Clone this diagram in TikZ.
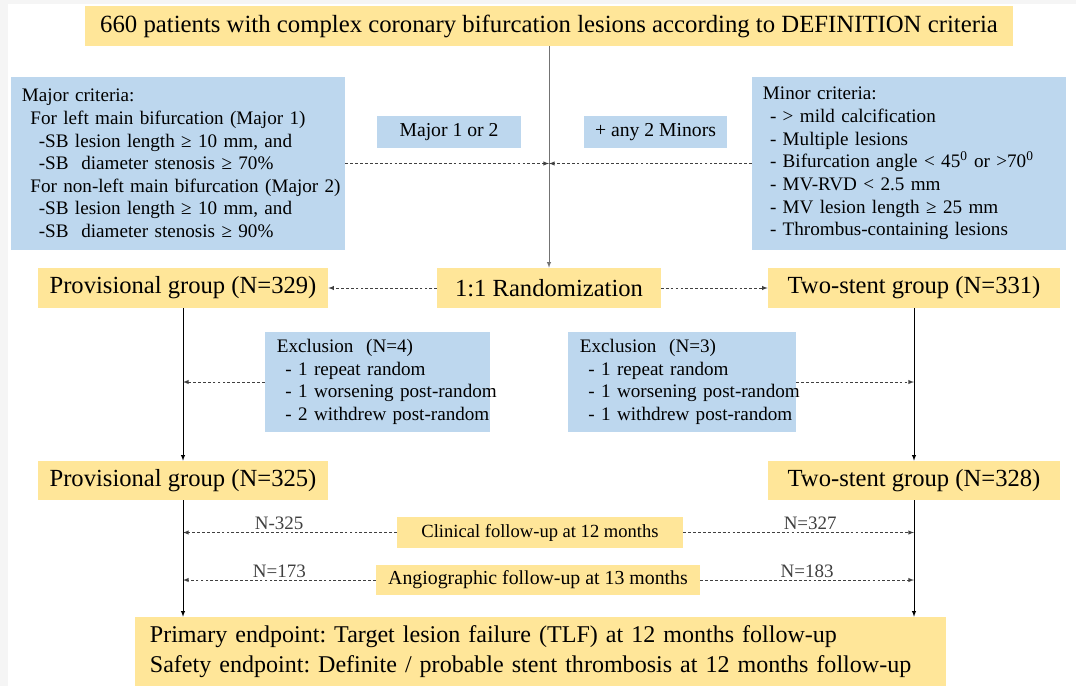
\documentclass[tikz,border=0pt]{standalone}
\usepackage{fontspec}
\setmainfont{Liberation Serif}
\usetikzlibrary{calc,arrows}
\definecolor{gold}{RGB}{255,230,153}
\definecolor{sky}{RGB}{189,215,238}
\frenchspacing

\begin{document}
\begin{tikzpicture}[x=0.025cm,y=-0.025cm,>=latex,
        gbox/.style={fill=gold,inner sep=0pt,font=\fontsize{17.5}{21}\selectfont},
        bbox/.style={fill=sky,inner sep=0pt,font=\fontsize{13.6}{16.1}\selectfont},
        lbox/.style={bbox,align=left,inner xsep=0.275cm},
        dline/.style={->,black!75,dash pattern=on 2pt off 1.5pt},
        nlab/.style={above,inner sep=1.5pt,font=\fontsize{13.5}{15}\selectfont}]
        \fill[black!4] (0,0) rectangle (1076,686);
        \fill[white] (8,4) rectangle (1076,686);
        \useasboundingbox (0,0) rectangle (1076,686);
        % boxes
        \node (top) at (549,26) [gbox,minimum width=23.2cm,minimum height=1cm,font=\fontsize{17.6}{20}\selectfont] {660 patients with complex coronary bifurcation lesions according to DEFINITION criteria};
        \node (major) at (178,163.5) [lbox,text width=7.8cm,minimum height=4.325cm] {Major criteria:\\
            \mbox{\hspace*{6pt}For left main bifurcation (Major 1)}\\
            \mbox{\hspace*{12pt}-SB lesion length ≥ 10 mm, and}\\
            \mbox{\hspace*{12pt}-SB\ \ diameter stenosis ≥ 70\%}\\
            \mbox{\hspace*{6pt}For non-left main bifurcation (Major 2)}\\
            \mbox{\hspace*{12pt}-SB lesion length ≥ 10 mm, and}\\
            \mbox{\hspace*{12pt}-SB\ \ diameter stenosis ≥ 90\%}};
        \node (minor) at (909,163.5) [lbox,text width=7.3cm,minimum height=4.325cm] {Minor criteria:\\
            \mbox{\hspace*{5pt}- > mild calcification}\\
            \mbox{\hspace*{5pt}- Multiple lesions}\\
            \mbox{\hspace*{5pt}- Bifurcation angle < 45\textsuperscript{0} or >70\textsuperscript{0}}\\
            \mbox{\hspace*{5pt}- MV-RVD < 2.5 mm}\\
            \mbox{\hspace*{5pt}- MV lesion length ≥ 25 mm}\\
            \mbox{\hspace*{5pt}- Thrombus-containing lesions}};
        \node (maj12) at (449,132) [bbox,minimum width=3.6cm,minimum height=0.8cm,font=\fontsize{14}{16}\selectfont] {Major 1 or 2};
        \node (any2) at (655.5,132) [bbox,minimum width=3.575cm,minimum height=0.8cm,font=\fontsize{14}{16}\selectfont] {+ any 2 Minors};
        \node (rand) at (549,288) [gbox,minimum width=5.575cm,minimum height=1cm] {1:1 Randomization};
        \node (prov1) at (183,288) [gbox,minimum width=7.25cm,minimum height=1cm] {Provisional group (N=329)};
        \node (two1) at (914,288) [gbox,minimum width=7.3cm,minimum height=1cm] {Two-stent group (N=331)};
        \node (exclL) at (377.5,382) [lbox,inner xsep=0.3cm,text width=5.025cm,minimum height=2.5cm] {Exclusion\ \ (N=4)\\
            \mbox{\hspace*{6pt}- 1 repeat random}\\
            \mbox{\hspace*{6pt}- 1 worsening post-random}\\
            \mbox{\hspace*{6pt}- 2 withdrew post-random}};
        \node (exclR) at (682,382) [lbox,inner xsep=0.3cm,text width=5.1cm,minimum height=2.5cm] {Exclusion\ \ (N=3)\\
            \mbox{\hspace*{6pt}- 1 repeat random}\\
            \mbox{\hspace*{6pt}- 1 worsening post-random}\\
            \mbox{\hspace*{6pt}- 1 withdrew post-random}};
        \node (prov2) at (183,480.5) [gbox,minimum width=7.25cm,minimum height=0.975cm] {Provisional group (N=325)};
        \node (two2) at (914,480.5) [gbox,minimum width=7.3cm,minimum height=0.975cm] {Two-stent group (N=328)};
        \node (clin) at (540,532.5) [gbox,minimum width=7.15cm,minimum height=0.775cm,font=\fontsize{13.2}{15}\selectfont] {Clinical follow-up at 12 months};
        \node (angio) at (538,580) [gbox,minimum width=8.1cm,minimum height=0.75cm,font=\fontsize{14.1}{16}\selectfont] {Angiographic follow-up at 13 months};
        \node (endp) at (540.5,651.5) [gbox,align=left,text width=19.525cm,inner xsep=0.375cm,minimum height=1.725cm,font=\fontsize{17.1}{21.3}\selectfont] {Primary endpoint: Target lesion failure (TLF) at 12 months follow-up\\
            Safety endpoint: Definite / probable stent thrombosis at 12 months follow-up};
        % connectors
        \draw[->,black!55] (top.south) -- (rand.north);
        \draw[dline] (major.east) -- (major.east -| rand.north);
        \draw[dline] (minor.west) -- (minor.west -| rand.north);
        \draw[dline] (rand.west) -- (prov1.east);
        \draw[dline] (rand.east) -- (two1.west);
        \draw[->] (prov1.south) -- (prov2.north);
        \draw[->] (two1.south) -- (two2.north);
        \draw[dline] (exclL.west) -- (exclL.west -| prov1.south);
        \draw[dline] (exclR.east) -- (exclR.east -| two1.south);
        \draw[dline] (clin.west) -- node[nlab,pos=0.55]{N-325} (clin.west -| prov2.south);
        \draw[dline] (clin.east) -- node[nlab,pos=0.55]{N=327} (clin.east -| two2.south);
        \draw[dline] (angio.west) -- node[nlab,pos=0.5]{N=173} (angio.west -| prov2.south);
        \draw[dline] (angio.east) -- node[nlab,pos=0.5]{N=183} (angio.east -| two2.south);
        \draw[->] (prov2.south) -- (prov2.south |- endp.north);
        \draw[->] (two2.south) -- (two2.south |- endp.north);
\end{tikzpicture}
\end{document}
